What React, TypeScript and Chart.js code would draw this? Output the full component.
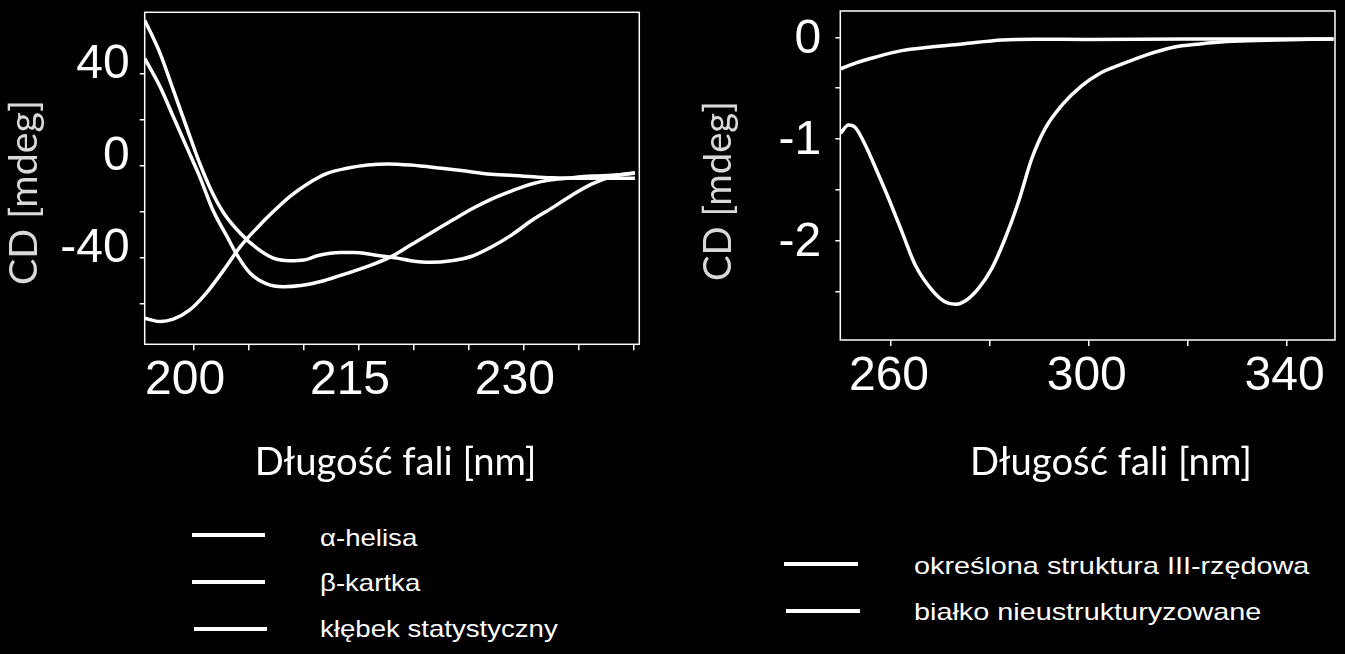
import React, { useEffect, useRef } from "react";
import { Chart, registerables } from "chart.js";
Chart.register(...registerables);

// ---------- data ----------
const alphaX = [195.5, 196.9, 198.1, 199.3, 200.5, 201.6, 202.7, 204.2, 205.7, 207.2, 208.7, 210, 211.2, 213.3, 214.5, 216.4, 218.5, 219.7, 221.5, 223.4, 225.2, 227, 228.9, 230.7, 232.5, 234.4, 236.2, 238, 240.1];
const alphaY = [63.3, 48.9, 33, 17, 1.2, -11.1, -20.5, -29.2, -35.7, -40, -41.1, -40.8, -39, -37.6, -37.6, -38.6, -40, -41.1, -41.8, -41.1, -39.3, -35.3, -29.9, -23.7, -18.4, -12.6, -7.8, -4.6, -2.9];

const betaX = [195.5, 196.9, 198.1, 199.3, 200.5, 201.7, 203, 203.9, 205.1, 206.6, 208.1, 209.7, 211.8, 213.9, 216.4, 218.2, 219.7, 221.5, 223.4, 225.2, 227, 228.9, 230.7, 232.5, 234.4, 236.2, 238, 240.1];
const betaY = [46.7, 34.4, 21.4, 8.4, -4.6, -19.1, -30.7, -38.6, -46.6, -51.2, -52.4, -51.9, -49.8, -46.6, -42.5, -38.7, -34.3, -29.2, -23.8, -18.8, -14.5, -10.8, -7.8, -6, -5.1, -4.4, -4, -3.2];

const coilX = [195.5, 196.9, 198.1, 199.6, 201.1, 202.7, 204.2, 205.7, 207.2, 208.7, 210.3, 212.1, 213.9, 215.8, 217.6, 219.7, 222.5, 224.3, 227, 229.8, 232.5, 236.2, 240.1];
const coilY = [-66.1, -67.5, -66.5, -62.5, -55.2, -45.1, -35, -27, -19.8, -13.3, -7.8, -3.2, -1, 0.4, 0.9, 0.4, -1, -2, -3.6, -4.3, -5.1, -5.3, -5.3];

const foldedX = [249.8, 251.4, 252.8, 254.8, 257.5, 259.5, 262.2, 264.9, 268.3, 270.9, 273, 275, 277.7, 280.4, 283.1, 285.8, 288.5, 291.2, 294.6, 298.5, 302.3, 306.3, 311.7, 317.1, 322.5, 327.9, 336, 349.5];
const foldedY = [-0.944, -0.862, -0.889, -1.059, -1.355, -1.584, -1.913, -2.241, -2.488, -2.603, -2.629, -2.596, -2.471, -2.274, -1.978, -1.618, -1.19, -0.895, -0.665, -0.48, -0.353, -0.271, -0.172, -0.097, -0.064, -0.041, -0.028, -0.015];

const unfoldedX = [249.8, 252.8, 256.8, 262.2, 267.6, 274.4, 282.5, 289.2, 299.3, 320, 349.5];
const unfoldedY = [-0.31, -0.254, -0.195, -0.13, -0.097, -0.064, -0.025, -0.018, -0.02, -0.015, -0.015];

const leftXTicks = [200, 205, 210, 215, 220, 225, 230, 235, 240];
const leftXLabels = [200, 215, 230];
const leftYTicks = [-60, -40, -20, 0, 20, 40];
const leftYLabels = [-40, 0, 40];
const rightXTicks = [260, 280, 300, 320, 340];
const rightXLabels = [260, 300, 340];
const rightYTicks = [-2.5, -2, -1.5, -1, -0.5, 0];
const rightYLabels = [-2, -1, 0];

const leftLegend = ["α-helisa", "β-kartka", "kłębek statystyczny"];
const rightLegend = ["określona struktura III-rzędowa", "białko nieustrukturyzowane"];
const xTitle = "Długość fali [nm]";
const yTitle = "CD [mdeg]";

// ---------- helpers ----------
const toPts = (xs: number[], ys: number[]) => xs.map((x, i) => ({ x, y: ys[i] }));

const boxPlugin = {
  id: "box",
  afterDatasetsDraw(chart: any) {
    const { ctx, chartArea: a } = chart;
    ctx.save();
    ctx.strokeStyle = "#ffffff";
    ctx.lineWidth = 1.5;
    ctx.strokeRect(a.left, a.top, a.right - a.left, a.bottom - a.top);
    ctx.restore();
  },
};

const fitFont = (ctx: CanvasRenderingContext2D, text: string, family: string, width: number) => {
  ctx.font = `100px ${family}`;
  const w = ctx.measureText(text).width;
  return (100 * width) / w;
};

const titlesPlugin = {
  id: "axisTitles",
  afterDraw(chart: any, _args: any, opts: any) {
    const ctx: CanvasRenderingContext2D = chart.ctx;
    const fam = "Lato, 'Open Sans', sans-serif";
    ctx.save();
    const xs = fitFont(ctx, opts.xText, fam, opts.xWidth);
    ctx.font = `${xs}px ${fam}`;
    ctx.fillStyle = "#ffffff";
    ctx.textAlign = "center";
    ctx.textBaseline = "alphabetic";
    ctx.fillText(opts.xText, opts.xCenter, opts.xBaseline);
    const ys = fitFont(ctx, opts.yText, fam, opts.yWidth);
    ctx.font = `${ys}px ${fam}`;
    ctx.fillStyle = "#d9d9d9";
    ctx.translate(opts.yBaseline, opts.yCenter);
    ctx.rotate(-Math.PI / 2);
    ctx.fillText(opts.yText, 0, 0);
    ctx.restore();
  },
};

const tickFont = { family: "'Liberation Sans', Arial, sans-serif", size: 48 };

const zeroPad = (s: any) => {
  s.paddingTop = 0;
  s.paddingBottom = 0;
  s.paddingLeft = 0;
  s.paddingRight = 0;
};

function makeConfig(p: any) {
  return {
    type: "line",
    data: {
      datasets: p.series.map((s: any) => ({
        label: s.label,
        data: toPts(s.x, s.y),
        borderColor: "#ffffff",
        borderWidth: 3.5,
        pointRadius: 0,
        fill: false,
        cubicInterpolationMode: "monotone",
      })),
    },
    options: {
      responsive: false,
      animation: false,
      devicePixelRatio: 1,
      layout: { padding: p.padding },
      plugins: {
        legend: { display: false },
        tooltip: { enabled: false },
        axisTitles: p.titles,
      },
      scales: {
        x: {
          type: "linear",
          min: p.xMin,
          max: p.xMax,
          afterBuildTicks: (s: any) => {
            s.ticks = p.xTicks.map((v: number) => ({ value: v }));
          },
          afterFit: (s: any) => {
            s.height = p.xHeight;
            zeroPad(s);
          },
          grid: { display: true, drawOnChartArea: false, drawTicks: true, tickLength: 6, color: "#ffffff", lineWidth: 1.5 },
          border: { display: false },
          ticks: {
            color: "#ffffff",
            font: tickFont,
            padding: p.xPad,
            labelOffset: p.xLabelOffset,
            autoSkip: false,
            maxRotation: 0,
            minRotation: 0,
            callback: (v: number) => (p.xLabels.includes(v) ? String(v) : ""),
          },
        },
        y: {
          type: "linear",
          min: p.yMin,
          max: p.yMax,
          afterBuildTicks: (s: any) => {
            s.ticks = p.yTicks.map((v: number) => ({ value: v }));
          },
          afterFit: (s: any) => {
            s.width = p.yWidth;
            zeroPad(s);
          },
          grid: { display: true, drawOnChartArea: false, drawTicks: true, tickLength: 5, color: "#ffffff", lineWidth: 1.5 },
          border: { display: false },
          ticks: {
            color: "#ffffff",
            font: tickFont,
            padding: p.yPad,
            labelOffset: p.yLabelOffset,
            autoSkip: false,
            callback: (v: number) => (p.yLabels.includes(v) ? String(v) : ""),
          },
        },
      },
    },
    plugins: [boxPlugin, titlesPlugin],
  };
}

function CDChart({ cfg, style, width, height }: any) {
  const ref = useRef<HTMLCanvasElement>(null);
  useEffect(() => {
    if (!ref.current) return;
    const chart = new Chart(ref.current, makeConfig(cfg) as any);
    return () => chart.destroy();
  }, []);
  return <canvas ref={ref} width={width} height={height} style={{ position: "absolute", width, height, ...style }} />;
}

const leftCfg = {
  series: [
    { label: leftLegend[0], x: alphaX, y: alphaY },
    { label: leftLegend[1], x: betaX, y: betaY },
    { label: leftLegend[2], x: coilX, y: coilY },
  ],
  padding: { left: 0, top: 12.3, right: 40.7, bottom: 0 },
  xMin: 195.5, xMax: 240.5, yMin: -77.4, yMax: 66.7,
  xTicks: leftXTicks, xLabels: leftXLabels, yTicks: leftYTicks, yLabels: leftYLabels,
  xHeight: 155.7, yWidth: 144.7,
  xPad: 2, xLabelOffset: -9, yPad: 10, yLabelOffset: -9,
  titles: { xText: xTitle, xCenter: 395.6, xBaseline: 475, xWidth: 282, yText: yTitle, yBaseline: 36.7, yCenter: 192.5, yWidth: 185 },
};

const rightCfg = {
  series: [
    { label: rightLegend[0], x: foldedX, y: foldedY },
    { label: rightLegend[1], x: unfoldedX, y: unfoldedY },
  ],
  padding: { left: 0, top: 11, right: 10, bottom: 0 },
  xMin: 249.75, xMax: 349.8, yMin: -2.98, yMax: 0.26,
  xTicks: rightXTicks, xLabels: rightXLabels, yTicks: rightYTicks, yLabels: rightYLabels,
  xHeight: 160, yWidth: 160.3,
  xPad: 2, xLabelOffset: -2, yPad: 14, yLabelOffset: 2,
  titles: { xText: xTitle, xCenter: 431, xBaseline: 475, xWidth: 282, yText: yTitle, yBaseline: 51, yCenter: 191, yWidth: 180 },
};

const legendText: React.CSSProperties = {
  position: "absolute",
  color: "#ffffff",
  fontFamily: "'Liberation Sans', Arial, sans-serif",
  fontSize: 24,
  lineHeight: "24px",
  whiteSpace: "nowrap",
  transformOrigin: "0 0",
};

function LegendItem({ text, lineLeft, lineWidth, lineY, textLeft, baseline, scale }: any) {
  return (
    <>
      <div style={{ position: "absolute", left: lineLeft, top: lineY - 2, width: lineWidth, height: 4, background: "#ffffff" }} />
      <div style={{ ...legendText, left: textLeft, top: baseline - 20.3, transform: `scaleX(${scale})` }}>{text}</div>
    </>
  );
}

export default function App() {
  return (
    <div style={{ position: "fixed", left: 0, top: 0, width: 1345, height: 654, background: "#000000", overflow: "hidden" }}>
      <CDChart cfg={leftCfg} width={680} height={500} style={{ left: 0, top: 0 }} />
      <CDChart cfg={rightCfg} width={665} height={500} style={{ left: 680, top: 0 }} />
      <LegendItem text={leftLegend[0]} lineLeft={192} lineWidth={73} lineY={534.5} textLeft={320} baseline={546} scale={1.15} />
      <LegendItem text={leftLegend[1]} lineLeft={192} lineWidth={73} lineY={581.5} textLeft={320} baseline={591.7} scale={1.15} />
      <LegendItem text={leftLegend[2]} lineLeft={194} lineWidth={73} lineY={628.5} textLeft={320} baseline={637.3} scale={1.15} />
      <LegendItem text={rightLegend[0]} lineLeft={784} lineWidth={74} lineY={563.7} textLeft={914} baseline={574.3} scale={1.2} />
      <LegendItem text={rightLegend[1]} lineLeft={786} lineWidth={74} lineY={610.5} textLeft={914} baseline={620.7} scale={1.2} />
    </div>
  );
}
